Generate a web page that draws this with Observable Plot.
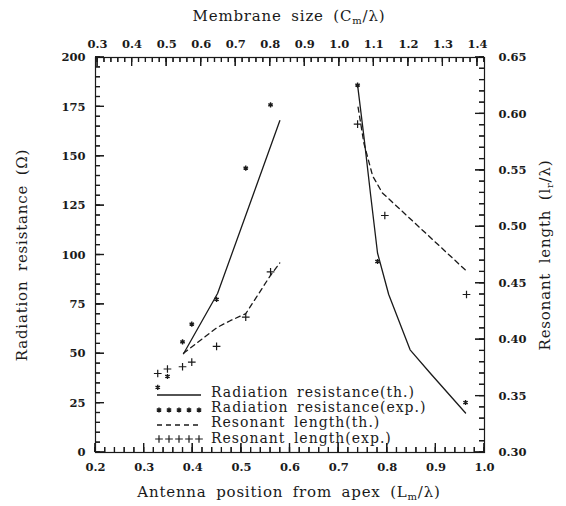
<!DOCTYPE html>
<html><head><meta charset="utf-8">
<script src="https://cdn.jsdelivr.net/npm/d3@7"></script>
<script src="https://cdn.jsdelivr.net/npm/@observablehq/plot@0.6"></script>
<style>body{margin:0;background:#fff} svg{display:block}</style>
</head><body><div id="chart"></div>
<script>
// Radiation resistance, theory (two branches)
const radThLm  = [0.381, 0.451, 0.525, 0.579,   0.739, 0.752, 0.766, 0.780, 0.803, 0.847, 0.889, 0.961];
const radThR   = [50, 80.5, 131, 168,           186, 160, 130, 101, 80, 52, 40, 20];
const radThSeg = ["L","L","L","L",              "R","R","R","R","R","R","R","R"];
// Radiation resistance, experiment
const radExpLm = [0.328, 0.348, 0.379, 0.398, 0.449, 0.509, 0.560, 0.739, 0.780, 0.961];
const radExpR  = [33, 38.5, 56, 65, 77.5, 144, 176, 186, 96.7, 25.3];
// Resonant length, theory (two branches)
const resThLm  = [0.381, 0.451, 0.478, 0.509, 0.560, 0.579,   0.740, 0.752, 0.770, 0.790, 0.965];
const resThL   = [0.388, 0.411, 0.417, 0.423, 0.457, 0.468,   0.606, 0.574, 0.545, 0.530, 0.460];
const resThSeg = ["L","L","L","L","L","L",                    "R","R","R","R","R"];
// Resonant length, experiment
const resExpLm = [0.328, 0.348, 0.379, 0.398, 0.449, 0.509, 0.560, 0.739, 0.795, 0.963];
const resExpL  = [0.370, 0.374, 0.376, 0.380, 0.394, 0.420, 0.460, 0.591, 0.510, 0.440];

// Axis tick values
const xMajor = [0.2,0.3,0.4,0.5,0.6,0.7,0.8,0.9,1.0];
const yMajor = [0,25,50,75,100,125,150,175,200];
const rMajor = [0.30,0.35,0.40,0.45,0.50,0.55,0.60,0.65];
const topMajor = [0.3,0.4,0.5,0.6,0.7,0.8,0.9,1.0,1.1,1.2,1.3,1.4];

const legendLabels = ["Radiation resistance(th.)","Radiation resistance(exp.)","Resonant length(th.)","Resonant length(exp.)"];

const L0 = 0.30, L1 = 0.65;
const toR = L => (L - L0) / (L1 - L0) * 200;
const cmAt02 = 0.294, cmPerLm = 1.408;
const cmToLm = c => 0.2 + (c - cmAt02) / cmPerLm;

const range = (a, b, s) => d3.range(Math.round((b - a) / s) + 1).map(i => +(a + i * s).toFixed(4));
const xMinor = range(0.2, 1.0, 0.02);
const yMinor = range(0, 200, 5);
const rMinor = range(0.30, 0.65, 0.01).map(toR);
const topMinor = range(0.30, 1.42, 0.02).map(cmToLm).filter(v => v <= 1.0);

const radTh = radThLm.map((x, i) => ({x, y: radThR[i], s: radThSeg[i]}));
const radExp = radExpLm.map((x, i) => ({x, y: radExpR[i]}));
const resTh = resThLm.map((x, i) => ({x, y: toR(resThL[i]), s: resThSeg[i]}));
const resExp = resExpLm.map((x, i) => ({x, y: toR(resExpL[i])}));

const W = 566, H = 506, mL = 95, mR = 82, mT = 57, mB = 54;
const FW = W - mL - mR, FH = H - mT - mB;
const pxX = 0.8 / FW, pxY = 200 / FH;   // one pixel in data units
const ink = "#1a1a1a";
// inward tick marks as thin filled rectangles
const ticksV = (vals, len, top) => Plot.rect(vals, {x1: d => d - 0.6 * pxX, x2: d => d + 0.6 * pxX,
  y1: top ? 200 : 0, y2: top ? 200 - len * pxY : len * pxY, fill: ink, inset: 0});
const ticksH = (vals, len, right) => Plot.rect(vals, {y1: d => d - 0.6 * pxY, y2: d => d + 0.6 * pxY,
  x1: right ? 1.0 : 0.2, x2: right ? 1.0 - len * pxX : 0.2 + len * pxX, fill: ink, inset: 0});

const chart = Plot.plot({
  width: W, height: H,
  marginLeft: mL, marginRight: mR, marginTop: mT, marginBottom: mB,
  style: {fontFamily: "DejaVu Serif", fontSize: "11.5px", fontWeight: "bold"},
  x: {domain: [0.2, 1.0], axis: null},
  y: {domain: [0, 200], axis: null},
  marks: [
    ticksV(xMinor, 5, false), ticksV(xMajor, 9, false),
    ticksV(topMinor, 5, true), ticksV(topMajor.map(cmToLm), 9, true),
    ticksH(yMinor, 5, false), ticksH(yMajor, 9, false),
    ticksH(rMinor, 5, true), ticksH(rMajor.map(toR), 9, true),
    Plot.frame({stroke: ink, strokeWidth: 1.2}),
    Plot.axisX(xMajor, {anchor: "bottom", tickSize: 0, tickPadding: 10, tickFormat: d3.format(".1f"), label: null, fill: ink}),
    Plot.axisX(topMajor.map(cmToLm), {anchor: "top", tickSize: 0, tickPadding: 10, tickFormat: (d, i) => topMajor[i].toFixed(1), label: null, fill: ink}),
    Plot.axisY(yMajor, {anchor: "left", tickSize: 0, tickPadding: 10, tickFormat: d3.format("d"), label: null, fill: ink}),
    Plot.axisY(rMajor.map(toR), {anchor: "right", tickSize: 0, tickPadding: 14, tickFormat: (d, i) => rMajor[i].toFixed(2), label: null, fill: ink}),
    Plot.line(radTh, {x: "x", y: "y", z: "s", stroke: ink, strokeWidth: 1.3}),
    Plot.line(resTh, {x: "x", y: "y", z: "s", stroke: ink, strokeWidth: 1.3, strokeDasharray: "5,4"}),
    Plot.dot(radExp, {x: "x", y: "y", symbol: "asterisk", r: 2.4, stroke: ink, strokeWidth: 1.4}),
    Plot.dot(resExp, {x: "x", y: "y", symbol: "plus", r: 2.6, stroke: ink, strokeWidth: 1.2})
  ]
});
document.getElementById("chart").appendChild(chart);

const svg = d3.select(chart);
// also draw the ticks as individually styled lines on top, through the plot's scales
const sx = chart.scale("x"), sy = chart.scale("y");
const tg = svg.append("g");
const addTick = (xa, ya, xb, yb) => tg.append("line").attr("x1", xa).attr("y1", ya).attr("x2", xb).attr("y2", yb)
  .attr("stroke", ink).attr("stroke-width", 1.2);
const vt = (vals, len, top) => vals.forEach(v => { const px = sx.apply(v), py = sy.apply(top ? 200 : 0);
  addTick(px, py, px, top ? py + len : py - len); });
const ht = (vals, len, right) => vals.forEach(v => { const py = sy.apply(v), px = sx.apply(right ? 1.0 : 0.2);
  addTick(px, py, right ? px - len : px + len, py); });
vt(xMinor, 5, false); vt(xMajor, 9, false);
vt(topMinor, 5, true); vt(topMajor.map(cmToLm), 9, true);
ht(yMinor, 5, false); ht(yMajor, 9, false);
ht(rMinor, 5, true); ht(rMajor.map(toR), 9, true);

// titles with subscripts
const titleStyle = t => t.attr("font-family", "DejaVu Serif").attr("font-size", 15).attr("font-weight", "normal").attr("fill", ink)
  .attr("letter-spacing", 0.8).attr("word-spacing", 4).attr("text-anchor", "middle");
function title(g, pre, sub, post) {
  g.append("tspan").text(pre);
  if (sub) g.append("tspan").attr("font-size", 10).attr("dy", 3).text(sub);
  g.append("tspan").attr("dy", sub ? -3 : 0).text(post);
}
title(titleStyle(svg.append("text")).attr("x", 289).attr("y", 497), "Antenna position from apex (L", "m", "/λ)");
title(titleStyle(svg.append("text")).attr("x", 289).attr("y", 21), "Membrane size (C", "m", "/λ)");
title(titleStyle(svg.append("text")).attr("transform", "translate(27,255) rotate(-90)"), "Radiation resistance (Ω)", null, "");
title(titleStyle(svg.append("text")).attr("transform", "translate(550,255) rotate(-90)"), "Resonant length (l", "r", "/λ)");

// legend
const lg = svg.append("g").attr("fill", ink).attr("text-anchor", "start");
const rowsY = [393, 408, 423, 439];
const sx0 = 157, sx1 = 201;
legendLabels.forEach((lab, i) => {
  lg.append("text").attr("x", 211).attr("y", rowsY[i] - 1).attr("dy", "0.35em").attr("text-anchor", "start")
    .attr("font-family", "DejaVu Serif").attr("font-size", 14).attr("font-weight", "normal")
    .attr("letter-spacing", 1).attr("word-spacing", 3).text(lab);
});
lg.append("line").attr("x1", sx0).attr("x2", sx1).attr("y1", rowsY[0] + 2).attr("y2", rowsY[0] + 2).attr("stroke", ink).attr("stroke-width", 1.3);
lg.append("line").attr("x1", sx0).attr("x2", sx1).attr("y1", rowsY[2] + 2).attr("y2", rowsY[2] + 2).attr("stroke", ink).attr("stroke-width", 1.3).attr("stroke-dasharray", "5,4");
const ast = d3.symbol(d3.symbolAsterisk, 2.4 * 2.4 * Math.PI)();
const plus = d3.symbol(d3.symbolPlus, 2.6 * 2.6 * Math.PI)();
d3.range(5).forEach(k => {
  const x = sx0 + 2 + k * 10;
  lg.append("path").attr("d", ast).attr("transform", `translate(${x},${rowsY[1] + 2})`).attr("fill", "none").attr("stroke", ink).attr("stroke-width", 1.4);
  lg.append("path").attr("d", plus).attr("transform", `translate(${x},${rowsY[3]})`).attr("fill", "none").attr("stroke", ink).attr("stroke-width", 1.2);
});
</script></body></html>
